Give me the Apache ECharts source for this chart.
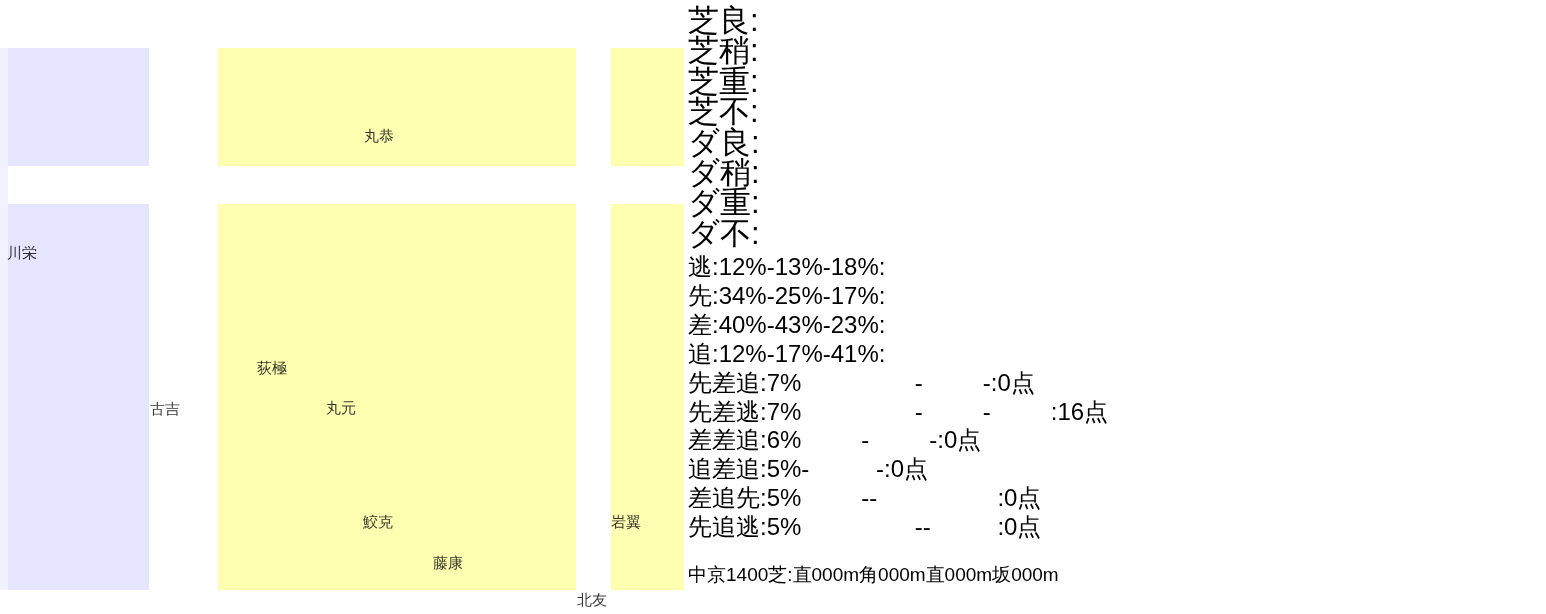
<!DOCTYPE html>
<html>
<head>
<meta charset="utf-8">
<script src="https://cdn.jsdelivr.net/npm/echarts@6/dist/echarts.min.js"></script>
<style>
    html, body { margin: 0; padding: 0; background: #fff; }
    #main { width: 1546px; height: 614px; }
</style>
</head>
<body>
<div id="main"></div>
<script>
    // 馬名とコース上の位置
    var names = ['丸恭', '川栄', '古吉', '荻極', '丸元', '鮫克', '藤康', '岩翼', '北友'];
    var posX = [379, 22, 165, 272, 341, 378, 448, 626, 592];
    var posY = [89, 206, 362, 321, 361, 475, 516, 475, 553];

    // 背景の帯 (x範囲)
    var laneBands = [[8, 149], [218, 576], [611, 684]];
    var laneKinds = ['blue', 'yellow', 'yellow'];
    // 背景の帯 (y範囲)
    var rowBands = [[0, 118], [156, 542]];

    // 右側のテキスト
    var condLines = ['芝良:', '芝稍:', '芝重:', '芝不:', 'ダ良:', 'ダ稍:', 'ダ重:', 'ダ不:'];
    var styleLines = ['逃:12%-13%-18%:', '先:34%-25%-17%:', '差:40%-43%-23%:', '追:12%-17%-41%:'];
    var sp = function (n) { return new Array(n + 1).join(' '); };
    var patternLines = [
        '先差追:7%' + sp(17) + '-' + sp(9) + '-:0点',
        '先差逃:7%' + sp(17) + '-' + sp(9) + '-' + sp(9) + ':16点',
        '差差追:6%' + sp(9) + '-' + sp(9) + '-:0点',
        '追差追:5%-' + sp(10) + '-:0点',
        '差追先:5%' + sp(9) + '--' + sp(18) + ':0点',
        '先追逃:5%' + sp(17) + '--' + sp(10) + ':0点'
    ];
    var courseLine = '中京1400芝:直000m角000m直000m坂000m';

    var font = 'sans-serif';

    var chart = echarts.init(document.getElementById('main'));

    var areas = [];
    for (var i = 0; i < laneBands.length; i++) {
        for (var j = 0; j < rowBands.length; j++) {
            areas.push([{
                xAxis: laneBands[i][0], yAxis: rowBands[j][0],
                itemStyle: {color: laneKinds[i] === 'blue' ? 'rgba(0,0,255,0.1)' : 'rgba(255,255,0,0.3)'}
            }, {
                xAxis: laneBands[i][1], yAxis: rowBands[j][1]
            }]);
        }
    }
    // 左端の薄い帯
    areas.push([{xAxis: 0, yAxis: 0, itemStyle: {color: 'rgba(0,0,255,0.05)'}}, {xAxis: laneBands[0][0], yAxis: 542}]);

    var data = [];
    for (var k = 0; k < names.length; k++) {
        data.push({name: names[k], value: [posX[k], posY[k]]});
    }

    var textEls = [];
    textEls.push({
        type: 'text', left: 688, top: 7,
        style: {text: condLines.join('\n'), font: '31px ' + font, lineHeight: 30.4, fill: '#000'}
    });
    textEls.push({
        type: 'text', left: 688, top: 254,
        style: {text: styleLines.concat(patternLines).join('\n'), font: '24px ' + font, lineHeight: 28.9, fill: '#000'}
    });
    textEls.push({
        type: 'text', left: 688, top: 566,
        style: {text: courseLine, font: '19px ' + font, fill: '#000'}
    });

    var option = {
        animation: false,
        grid: {left: 0, top: 48, width: 684, height: 542},
        xAxis: {type: 'value', min: 0, max: 684, show: false},
        yAxis: {type: 'value', min: 0, max: 542, inverse: true, show: false},
        tooltip: {show: false},
        series: [{
            type: 'scatter',
            symbolSize: 0,
            clip: false,
            label: {
                show: true,
                position: 'inside',
                formatter: '{b}',
                color: '#000',
                fontSize: 15,
                fontFamily: font
            },
            markArea: {
                silent: true,
                data: areas
            },
            data: data
        }],
        graphic: textEls
    };

    chart.setOption(option);
</script>
</body>
</html>
